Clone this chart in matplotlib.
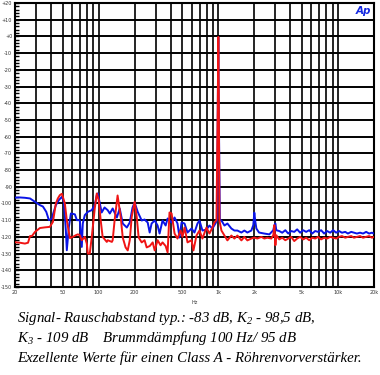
import matplotlib.pyplot as plt
from matplotlib.ticker import FixedLocator, NullFormatter

plt.rcParams["mathtext.fontset"] = "custom"
plt.rcParams["mathtext.rm"] = "Liberation Serif:italic"
plt.rcParams["mathtext.it"] = "Liberation Serif:italic"

# spectrum, left channel (blue)
blue_f = [20, 22, 24.2, 26.7, 29.4, 32.3, 34.2, 36.5, 38.4, 40.7, 41.5, 43.9, 46.5,
          49.3, 51.2, 53.2, 54.2, 56.4, 58.6, 63.3, 65.8, 69.6, 72.3, 73.7, 76.6,
          81.2, 87.6, 92.8, 96.5, 98.4, 106, 112, 119, 124, 131, 142, 150, 159, 172,
          182, 192, 200, 212, 229, 242, 257, 267, 277, 294, 311, 323, 342, 363, 377,
          407, 431, 456, 474, 493, 522, 553, 597, 632, 670, 696, 737, 796, 843, 893,
          946, 975, 992, 1000, 1008, 1030, 1062, 1125, 1191, 1286, 1363, 1444, 1559,
          1651, 1749, 1888, 1960, 2000, 2040, 2080, 2190, 2420, 2670, 2880, 2940,
          3000, 3050,
          3230, 3420, 3630, 3840, 4070, 4310, 4560, 4830, 5120, 5420, 5750, 6090,
          6450, 6830, 7230, 7660, 8120, 8600, 9110, 9650, 10200, 10800, 11500, 12100,
          12900, 13600, 14400, 15300, 16200, 17200, 18200, 19200, 20000]
blue_db = [-96.5, -96.4, -96.6, -97.0, -99.0, -101.0, -101.8, -105.0, -110.0, -109.0,
           -106.5, -101.0, -98.0, -96.0, -99.0, -116.0, -128.0, -114.0, -106.0,
           -106.5, -110.0, -110.0, -126.0, -112.0, -107.0, -105.0, -104.0, -101.0,
           -95.0, -94.0, -105.4, -102.4, -104.0, -106.0, -103.0, -108.4, -103.0,
           -112.0, -114.4, -111.4, -102.4, -99.4, -105.0, -110.2, -109.6, -111.4,
           -117.4, -112.0, -110.2, -113.2, -118.0, -110.2, -113.2, -109.0, -111.4,
           -108.4, -112.0, -120.4, -111.4, -112.0, -117.4, -115.0, -117.4, -112.0,
           -110.2, -116.2, -115.6, -113.2, -115.0, -112.0, -110.0, -40.0, -0.5,
           -40.0, -110.0, -110.2, -113.2, -112.0, -115.0, -116.2, -116.2, -117.4,
           -116.2, -117.4, -116.2, -113.0, -105.5, -111.0, -115.0, -117.4, -118.0,
           -118.5, -116.0, -113.0, -112.0, -116.0,
           -116.5, -117.5, -116.0, -118.0, -116.5, -117.0, -115.5, -117.5, -116.0,
           -117.0, -116.0, -118.0, -116.5, -117.0, -116.0, -118.0, -116.5, -117.5,
           -116.0, -117.5, -116.5, -117.5, -117.0, -118.0, -117.0, -117.5, -118.0,
           -117.5, -118.0, -117.0, -118.0, -117.5, -118.0]

# spectrum, right channel (red)
red_f = [20, 22, 24.2, 25.7, 26.7, 27.7, 29.4, 32.3, 35.6, 39.1, 41.5, 43.9, 45.6,
         47.4, 49.3, 50.2, 52.2, 54.2, 57.5, 60.9, 64.5, 67.0, 69.6, 72.3, 76.6,
         79.6, 81.2, 84.3, 87.6, 92.8, 96.5, 100.2, 104, 108, 117, 119, 129, 131,
         136, 144, 153, 159, 168, 175, 182, 189, 200, 208, 216, 229, 242, 252, 267,
         283, 294, 311, 329, 342, 363, 377, 391, 407, 431, 456, 483, 502, 522, 553,
         597, 620, 657, 696, 737, 796, 843, 893, 928, 965, 990, 1000, 1010, 1022,
         1062, 1125, 1191, 1286, 1363, 1444, 1559, 1651, 1749, 1888, 2000, 2119,
         2288, 2424, 2567, 2772, 2880, 2940, 3000, 3050,
         3230, 3420, 3630, 3840, 4070, 4310, 4560, 4830, 5120, 5420, 5750, 6090,
         6450, 6830, 7230, 7660, 8120, 8600, 9110, 9650, 10200, 10800, 11500, 12100,
         12900, 13600, 14400, 15300, 16200, 17200, 18200, 19200, 20000]
red_db = [-123.2, -123.5, -124.0, -123.5, -119.5, -119.5, -117.0, -114.7, -114.3,
          -114.0, -111.0, -100.0, -97.0, -95.0, -94.2, -96.0, -100.0, -110.0, -120.7,
          -120.0, -119.0, -118.5, -119.0, -122.0, -120.0, -124.0, -130.0, -130.0,
          -120.0, -103.0, -94.0, -98.0, -110.0, -120.0, -123.0, -122.0, -123.0,
          -122.0, -110.0, -95.2, -108.4, -120.4, -126.3, -128.1, -122.0, -108.0,
          -99.0, -108.0, -120.4, -123.3, -122.0, -126.3, -125.5, -123.3, -128.1,
          -122.0, -125.0, -123.3, -125.5, -129.3, -105.4, -106.0, -118.0, -121.0,
          -116.2, -120.0, -114.4, -123.3, -122.0, -128.1, -119.2, -116.2, -121.0,
          -114.4, -118.0, -114.4, -111.4, -110.0, -40.0, -0.3, -40.0, -110.2,
          -116.2, -119.2, -122.1, -119.2, -121.0, -119.2, -122.1, -120.0, -122.1,
          -121.0, -120.4, -121.0, -120.0, -121.0, -120.5, -121.0, -119.0, -113.0,
          -125.0, -119.0,
          -121.5, -120.5, -122.0, -121.0, -120.0, -122.5, -121.0, -120.0, -121.5,
          -120.5, -122.0, -120.5, -121.0, -120.0, -121.5, -120.5, -121.0, -120.0,
          -120.5, -121.0, -120.0, -119.5, -120.5, -120.0, -119.5, -120.5, -120.0,
          -119.5, -120.5, -120.0, -119.5, -120.5, -120.0]

x_ticks = [20, 50, 100, 200, 500, 1000, 2000, 5000, 10000, 20000]
x_labels = ["20", "50", "100", "200", "500", "1k", "2k", "5k", "10k", "20k"]
x_grid = [m * 10 ** e for e in (1, 2, 3) for m in range(1, 10)] + [10000, 20000]
y_ticks = list(range(20, -151, -10))
y_labels = ["+20", "+10", "+0"] + [str(v) for v in range(-10, -151, -10)]

caption = [
    "Signal- Rauschabstand typ.: -83 dB, K$_2$ - 98,5 dB,",
    "K$_3$ - 109 dB    Brummdämpfung 100 Hz/ 95 dB",
    "Exzellente Werte für einen Class A - Röhrenvorverstärker.",
]

fig = plt.figure(figsize=(3.8, 3.75), dpi=100)
ax = fig.add_axes([15 / 380, 88 / 375, 359 / 380, 284 / 375])

ax.plot(blue_f, blue_db, color="#0a14e6", lw=1.4, zorder=3)
ax.plot(red_f, red_db, color="#f01414", lw=1.4, zorder=4)

ax.set_xscale("log")
ax.set_xlim(20, 20000)
ax.set_ylim(-150, 20)

ax.xaxis.set_major_locator(FixedLocator(x_ticks))
ax.xaxis.set_minor_locator(FixedLocator([g for g in x_grid if 20 <= g <= 20000]))
ax.xaxis.set_minor_formatter(NullFormatter())
ax.set_xticklabels(x_labels)
ax.set_yticks(y_ticks)
ax.set_yticklabels(y_labels)
ax.set_yticks(range(-150, 21, 2), minor=True)

ax.grid(True, which="both", axis="x", color="black", lw=1.2, zorder=1)
ax.grid(True, which="major", axis="y", color="black", lw=1.4, zorder=1)
ax.tick_params(axis="x", which="both", length=0, labelsize=3.5, pad=2, labelcolor="#333333")
ax.tick_params(axis="y", which="both", direction="in", length=3, width=1,
               labelsize=3.5, pad=2, labelcolor="#333333")
for s in ax.spines.values():
    s.set_linewidth(1.5)

ax.text(0.5, -0.045, "Hz", transform=ax.transAxes, ha="center", va="top",
        fontsize=3.5, color="#333333")
ax.text(0.993, 0.99, "Ap", transform=ax.transAxes, ha="right", va="top",
        fontsize=7.5, fontweight="bold", fontstyle="italic", color="#1428e0",
        family="DejaVu Sans")

for i, line in enumerate(caption):
    fig.text(17 / 380, 1 - (322 + 20 * i) / 375, line, ha="left", va="baseline",
             fontsize=10.7, fontstyle="italic", family="Liberation Serif")

fig.savefig("out.png", dpi=100)
